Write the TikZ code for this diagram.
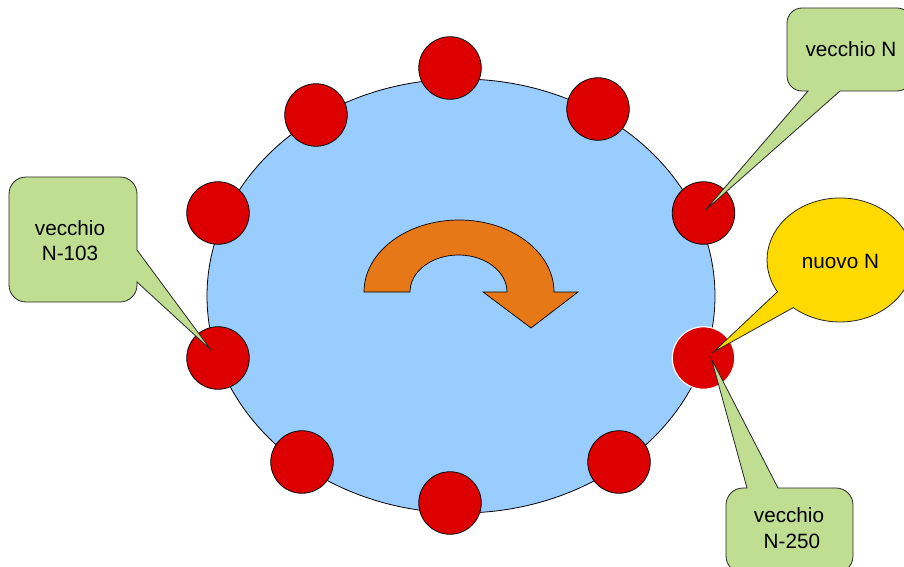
\documentclass[tikz,border=0pt]{standalone}
\usepackage{fontspec}
\setmainfont{Liberation Sans}
\usetikzlibrary{calc,shapes.geometric}
\definecolor{skyblue}{HTML}{99CCFF}
\definecolor{dotred}{HTML}{DD0000}
\definecolor{arroworange}{HTML}{E67817}
\definecolor{calloutgreen}{HTML}{BFDE91}
\definecolor{calloutyellow}{HTML}{FFDA00}
\begin{document}
\begin{tikzpicture}[x=1pt,y=-1pt,
  reddot/.style={circle, fill=dotred, draw=black, line width=0.8pt, minimum size=62.5pt, inner sep=0pt},
  greenbubble/.style={fill=calloutgreen, draw=black!85, line width=0.8pt},
  yellowbubble/.style={fill=calloutyellow, draw=black!85, line width=0.8pt},
  txt/.style={font=\fontsize{20.7}{25.5}\selectfont, align=center, inner sep=0pt, text=black}]
\useasboundingbox (0,0) rectangle (904,567);
\clip (0,0) rectangle (904,567);
% central disc
\node[ellipse, draw=black, line width=0.8pt, fill=skyblue, minimum width=508pt, minimum height=434pt, inner sep=0pt] (ring) at (461,296) {};
% rotation arrow
\draw[fill=arroworange, line width=0.7pt] (364,292) arc[start angle=180, end angle=360, x radius=95, y radius=72]
  -- (578,292) -- (531,328) -- (483,292) -- (507,292)
  arc[start angle=0, end angle=-180, x radius=48.5, y radius=37] -- cycle;
% red nodes
\node[reddot] (n1) at (450,68) {};
\node[reddot] (n2) at (598,109) {};
\node[reddot] (n3) at (703.5,213) {};
\node[reddot, draw=white, line width=1.2pt] (n4) at (703.5,358) {};
\node[reddot] (n5) at (619,462) {};
\node[reddot] (n6) at (450,503) {};
\node[reddot] (n7) at (302,462) {};
\node[reddot] (n8) at (218,358) {};
\node[reddot] (n9) at (218,213) {};
\node[reddot] (n10) at (316,115) {};
% tips
\coordinate (tipA) at ($(n3.center)+(1.5,-2.5)$);
\coordinate (tipB) at ($(n8.center)+(-7,-8)$);
\coordinate (tipC) at ($(n4.center)+(8,1)$);
\coordinate (tipD) at ($(n4.center)+(10,-6)$);
% callout: vecchio N
\draw[greenbubble] (850,8) [rounded corners=15pt] -- (787,8) -- (787,91) [sharp corners] -- (808,91)
  -- (tipA) -- (840,91) [rounded corners=15pt] -- (912,91) -- (912,8) -- cycle;
% callout: vecchio N-103
\draw[greenbubble] (73,177) [rounded corners=17pt] -- (9,177) -- (9,302) -- (137,302) [sharp corners] -- (137,282)
  -- (tipB) -- (137,250) [rounded corners=17pt] -- (137,177) -- cycle;
% callout: vecchio N-250
\draw[greenbubble] (790,573) [rounded corners=17pt] -- (726,573) -- (726,488) [sharp corners] -- (747,488)
  -- (tipC) -- (778,488) [rounded corners=17pt] -- (853,488) -- (853,573) -- cycle;
% callout: nuovo N
\draw[yellowbubble] (tipD) -- (793.3,307.6) arc[start angle=129.8, end angle=-210.9, x radius=73, y radius=62] -- cycle;
% texts
\node[txt] (tA) at (851,49.5) {vecchio N};
\node[txt] (tB) at (70,240.5) {vecchio\\N-103};
\node[txt] (tC) at (789,528) {vecchio\\\hspace*{5.8pt}N-250};
\node[txt] (tD) at (840.5,261) {nuovo N};
\end{tikzpicture}
\end{document}
